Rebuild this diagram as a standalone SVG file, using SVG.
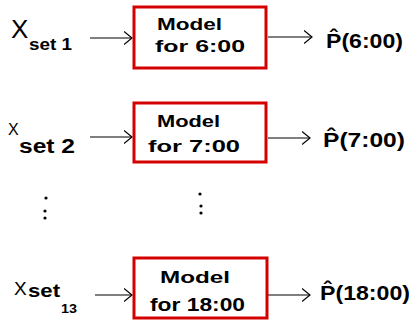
<svg xmlns="http://www.w3.org/2000/svg" width="415" height="320" viewBox="0 0 415 320">
<style>
.box{fill:#fff;stroke:#d40000;stroke-width:3}
.t{font-family:"Liberation Sans",Arial,sans-serif;fill:#000}
.b{font-weight:bold}
.ln{stroke:#000;stroke-width:1.2;fill:none}
.dot{fill:#000}
</style>
<defs>
<marker id="ah" markerUnits="userSpaceOnUse" markerWidth="10" markerHeight="14" refX="8" refY="7" orient="auto" viewBox="0 0 10 14">
<path d="M0,0.5 L8,7 L0,13.5" fill="none" stroke="#000" stroke-width="1.2"/>
</marker>
</defs>
<rect width="415" height="320" fill="#fff"/>
<g id="connectors">
<line class="ln" x1="90" y1="38" x2="132" y2="38" marker-end="url(#ah)"/>
<line class="ln" x1="268" y1="37" x2="312" y2="37" marker-end="url(#ah)"/>
<line class="ln" x1="90" y1="137" x2="132" y2="137" marker-end="url(#ah)"/>
<line class="ln" x1="268" y1="138" x2="310" y2="138" marker-end="url(#ah)"/>
<line class="ln" x1="95" y1="295" x2="132" y2="295" marker-end="url(#ah)"/>
<line class="ln" x1="268" y1="295" x2="310" y2="295" marker-end="url(#ah)"/>
</g>
<g id="input1">
<text class="t" x="11" y="38" font-size="26">X</text>
<text class="t b" x="29" y="50" font-size="17" textLength="43" lengthAdjust="spacingAndGlyphs">set 1</text>
</g>
<g id="model1">
<rect class="box" x="134" y="7" width="132" height="61"/>
<text class="t b" x="157" y="30" font-size="16" textLength="65" lengthAdjust="spacingAndGlyphs">Model</text>
<text class="t b" x="155" y="52" font-size="17" textLength="90" lengthAdjust="spacingAndGlyphs">for 6:00</text>
</g>
<g id="output1">
<text class="t b" x="326" y="48" font-size="20" textLength="77" lengthAdjust="spacingAndGlyphs">P̂(6:00)</text>
</g>
<g id="input2">
<text class="t" x="8" y="135" font-size="16">X</text>
<text class="t b" x="19" y="153" font-size="20" textLength="56" lengthAdjust="spacingAndGlyphs">set 2</text>
</g>
<g id="model2">
<rect class="box" x="134" y="103" width="132" height="59"/>
<text class="t b" x="157" y="127" font-size="16" textLength="63" lengthAdjust="spacingAndGlyphs">Model</text>
<text class="t b" x="148" y="152" font-size="17" textLength="92" lengthAdjust="spacingAndGlyphs">for 7:00</text>
</g>
<g id="output2">
<text class="t b" x="323" y="147" font-size="20" textLength="82" lengthAdjust="spacingAndGlyphs">P̂(7:00)</text>
</g>
<g id="ellipsis">
<circle class="dot" cx="46" cy="198" r="1.6"/>
<circle class="dot" cx="45" cy="211" r="1.6"/>
<circle class="dot" cx="45" cy="218" r="1.6"/>
<circle class="dot" cx="200" cy="194" r="1.6"/>
<circle class="dot" cx="201" cy="206" r="1.6"/>
<circle class="dot" cx="201" cy="213" r="1.6"/>
</g>
<g id="input3">
<text class="t" x="14" y="295" font-size="19">X</text>
<text class="t b" x="28" y="297" font-size="18" textLength="32" lengthAdjust="spacingAndGlyphs">set</text>
<text class="t b" x="61" y="313" font-size="13" textLength="16" lengthAdjust="spacingAndGlyphs">13</text>
</g>
<g id="model3">
<rect class="box" x="134" y="258" width="133" height="60"/>
<text class="t b" x="160" y="283" font-size="17" textLength="70" lengthAdjust="spacingAndGlyphs">Model</text>
<text class="t b" x="150" y="311" font-size="18" textLength="95" lengthAdjust="spacingAndGlyphs">for 18:00</text>
</g>
<g id="output3">
<text class="t b" x="320" y="300" font-size="20" textLength="90" lengthAdjust="spacingAndGlyphs">P̂(18:00)</text>
</g>
</svg>
